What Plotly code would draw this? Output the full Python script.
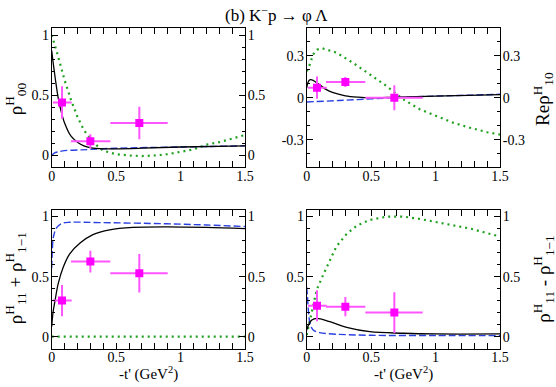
import plotly.graph_objects as go

# measured points (same bins in every panel)
t_data = [0.08, 0.30, 0.68]
t_err_lo = [0.07, 0.15, 0.225]
t_err_hi = [0.075, 0.155, 0.22]

rho00_data = [0.44, 0.117, 0.27]
rho00_err = [0.135, 0.06, 0.135]
rere10_data = [0.072, 0.113, 0.0]
rere10_err = [0.08, 0.035, 0.09]
sum11_data = [0.30, 0.625, 0.528]
sum11_err = [0.13, 0.09, 0.16]
dif11_data = [0.257, 0.249, 0.20]
dif11_err = [0.13, 0.08, 0.17]

# model curves
t_b00 = [0, 0.01, 0.02, 0.03, 0.05, 0.07, 0.1, 0.15, 0.2, 0.25, 0.3, 0.4, 0.5, 0.7, 1.0, 1.5]
black00 = [0.87, 0.78, 0.70, 0.62, 0.48, 0.38, 0.27, 0.16, 0.11, 0.08, 0.065, 0.055, 0.055, 0.06, 0.07, 0.08]
t_u00 = [0, 0.02, 0.05, 0.1, 0.2, 0.3, 0.5, 1.0, 1.5]
blue00 = [0.0, 0.02, 0.03, 0.04, 0.045, 0.05, 0.06, 0.07, 0.08]
t_g00 = [0, 0.04, 0.1, 0.15, 0.2, 0.25, 0.3, 0.35, 0.4, 0.5, 0.6, 0.7, 0.8, 0.9, 1.0, 1.1, 1.2, 1.3, 1.4, 1.5]
green00 = [1.0, 0.86, 0.625, 0.46, 0.32, 0.21, 0.14, 0.083, 0.04, 0.01, 0.0, -0.005, 0.0, 0.01, 0.03, 0.05, 0.09, 0.11, 0.14, 0.17]

t_b10 = [0, 0.01, 0.02, 0.03, 0.05, 0.08, 0.1, 0.15, 0.2, 0.3, 0.4, 0.5, 0.7, 1.0, 1.5]
black10 = [0.07, 0.11, 0.125, 0.13, 0.125, 0.105, 0.093, 0.06, 0.038, 0.014, 0.004, 0.0, 0.005, 0.012, 0.022]
t_u10 = [0, 0.25, 0.5, 0.75, 1.0, 1.25, 1.5]
blue10 = [-0.03, -0.02, -0.008, 0.003, 0.012, 0.018, 0.025]
t_g10 = [0, 0.02, 0.05, 0.08, 0.12, 0.23, 0.36, 0.49, 0.62, 0.75, 0.88, 1.01, 1.14, 1.27, 1.4, 1.5]
green10 = [0.19, 0.228, 0.31, 0.345, 0.355, 0.324, 0.25, 0.168, 0.084, -0.012, -0.084, -0.132, -0.18, -0.216, -0.247, -0.264]

t_bs = [0, 0.01, 0.026, 0.05, 0.09, 0.14, 0.22, 0.32, 0.45, 0.63, 0.89, 1.2, 1.5]
black_sum = [0.083, 0.2, 0.3, 0.44, 0.58, 0.69, 0.78, 0.85, 0.89, 0.91, 0.915, 0.91, 0.9]
t_us = [0, 0.005, 0.013, 0.04, 0.08, 0.14, 0.375, 0.89, 1.2, 1.5]
blue_sum = [0.57, 0.72, 0.83, 0.91, 0.944, 0.953, 0.95, 0.94, 0.93, 0.917]
t_gs = [0, 1.5]
green_sum = [0.0, 0.0]

t_bd = [0, 0.02, 0.04, 0.078, 0.18, 0.31, 0.49, 0.75, 1.0, 1.5]
black_dif = [0.055, 0.11, 0.138, 0.152, 0.124, 0.077, 0.041, 0.028, 0.022, 0.022]
t_ud = [0, 0.005, 0.013, 0.026, 0.05, 0.1, 0.23, 0.5, 1.0, 1.5]
blue_dif = [0.41, 0.35, 0.22, 0.11, 0.055, 0.033, 0.02, 0.011, 0.009, 0.008]
t_gd = [0, 0.026, 0.05, 0.078, 0.13, 0.18, 0.23, 0.31, 0.39, 0.49, 0.62, 0.75, 0.88, 1.01, 1.14, 1.27, 1.4, 1.5]
green_dif = [0.014, 0.14, 0.28, 0.39, 0.52, 0.635, 0.75, 0.856, 0.925, 0.972, 1.0, 1.0, 0.98, 0.953, 0.925, 0.9, 0.862, 0.834]

FONT = "Times New Roman"
BLACK = "black"
BLUE = "#2a3fe0"
GREEN = "#1fa01f"
MAG = "#ff00ff"

panels = [
    (t_b00, black00, t_u00, blue00, t_g00, green00, rho00_data, rho00_err),
    (t_b10, black10, t_u10, blue10, t_g10, green10, rere10_data, rere10_err),
    (t_bs, black_sum, t_us, blue_sum, t_gs, green_sum, sum11_data, sum11_err),
    (t_bd, black_dif, t_ud, blue_dif, t_gd, green_dif, dif11_data, dif11_err),
]

fig = go.Figure()
for i, (tb, yb, tu, yu, tg, yg, yd, ye) in enumerate(panels):
    xa = "x" if i == 0 else "x%d" % (i + 1)
    ya = "y" if i == 0 else "y%d" % (i + 1)
    fig.add_trace(go.Scatter(x=tg, y=yg, xaxis=xa, yaxis=ya, mode="lines",
                             line=dict(color=GREEN, width=2.2, dash="2px,4px")))
    fig.add_trace(go.Scatter(x=tu, y=yu, xaxis=xa, yaxis=ya, mode="lines",
                             line=dict(color=BLUE, width=1.4, dash="7px,3px", shape="spline")))
    fig.add_trace(go.Scatter(x=tb, y=yb, xaxis=xa, yaxis=ya, mode="lines",
                             line=dict(color=BLACK, width=1.3, shape="spline")))
    fig.add_trace(go.Scatter(
        x=t_data, y=yd, xaxis=xa, yaxis=ya, mode="markers",
        marker=dict(symbol="square", size=8, color=MAG),
        error_x=dict(type="data", array=t_err_hi, arrayminus=t_err_lo, color="#ff55ff", thickness=2, width=0),
        error_y=dict(type="data", array=ye, color="#ff55ff", thickness=2, width=0)))
    # invisible helper so the right-hand mirror axis gets drawn
    fig.add_trace(go.Scatter(x=t_data, y=yd, xaxis=xa, yaxis="y%d" % (i + 5), mode="markers",
                             marker=dict(opacity=0), hoverinfo="skip"))

xdoms = [[0.093, 0.4406], [0.5516, 0.8993]]
ydoms = [[0.5672, 0.9276], [0.0992, 0.4574]]
yranges = [[-0.1, 1.058], [-0.5, 0.5], [-0.1, 1.055], [-0.1, 1.055]]

tickfont = dict(family=FONT, size=14, color="black")
minor = dict(ticks="inside", ticklen=3, dtick=0.1, tick0=0, tickcolor="black")
layout = {}
for i in range(4):
    col, row = i % 2, i // 2
    xn = "xaxis" if i == 0 else "xaxis%d" % (i + 1)
    yn = "yaxis" if i == 0 else "yaxis%d" % (i + 1)
    yr = "y" if i == 0 else "y%d" % (i + 1)
    xr = "x" if i == 0 else "x%d" % (i + 1)
    if i == 1:
        yt = dict(tickvals=[-0.3, 0, 0.3], ticktext=["-0.3", "0", "0.3"])
    else:
        yt = dict(tickvals=[0, 0.5, 1], ticktext=["0", "0.5", "1"])
    layout[xn] = dict(domain=xdoms[col], anchor=yr, range=[0, 1.5], dtick=0.5,
                      ticks="inside", ticklen=6, tickcolor="black", showline=True,
                      linecolor="black", linewidth=1, mirror="allticks", showgrid=False,
                      zeroline=False, tickfont=tickfont, ticklabelstandoff=-4,
                      automargin=False, minor=minor)
    layout[yn] = dict(domain=ydoms[row], anchor=xr, range=yranges[i], ticks="inside",
                      ticklen=6, tickcolor="black", showline=True, linecolor="black",
                      linewidth=1, showgrid=False, zeroline=False, tickfont=tickfont,
                      ticklabelstandoff=-1, automargin=False, minor=minor, **yt)
    layout["yaxis%d" % (i + 5)] = dict(overlaying=yr, anchor=xr, side="right", range=yranges[i],
                                       ticks="inside", ticklen=6, tickcolor="black",
                                       showline=True, linecolor="black", linewidth=1,
                                       showgrid=False, zeroline=False, tickfont=tickfont,
                                       ticklabelstandoff=-1, automargin=False, minor=minor, **yt)

fig.update_layout(**layout)

labfont = dict(family=FONT, size=19, color="black")
xtfont = dict(family=FONT, size=15, color="black")
ann = dict(xref="paper", yref="paper", showarrow=False, xanchor="center", yanchor="middle")
fig.update_layout(
    width=556, height=387, showlegend=False,
    margin=dict(l=0, r=0, t=0, b=0, autoexpand=False),
    paper_bgcolor="white", plot_bgcolor="white",
    font=dict(family=FONT, color="black"),
    annotations=[
        dict(text="(b) K<sup>−</sup>p → φ Λ", x=0.497, y=0.965,
             font=dict(family=FONT, size=17, color="black"), **ann),
        dict(text="ρ<sup>H</sup><sub>00</sub>", x=0.028, y=0.745, textangle=-90, font=labfont, **ann),
        dict(text="Reρ<sup>H</sup><sub>10</sub>", x=0.977, y=0.745, textangle=-90, font=labfont, **ann),
        dict(text="ρ<sup>H</sup><sub>11</sub> + ρ<sup>H</sup><sub>1−1</sub>", x=0.028, y=0.28,
             textangle=-90, font=labfont, **ann),
        dict(text="ρ<sup>H</sup><sub>11</sub> - ρ<sup>H</sup><sub>1−1</sub>", x=0.977, y=0.28,
             textangle=-90, font=labfont, **ann),
        dict(text="-t' (GeV<sup>2</sup>)", x=0.267, y=0.036, font=xtfont, **ann),
        dict(text="-t' (GeV<sup>2</sup>)", x=0.725, y=0.036, font=xtfont, **ann),
    ],
)

# page body margin would shift the whole figure by 8px
fig.write_html("out.html", config={"displayModeBar": False},
               post_script="document.body.style.margin='0';")
